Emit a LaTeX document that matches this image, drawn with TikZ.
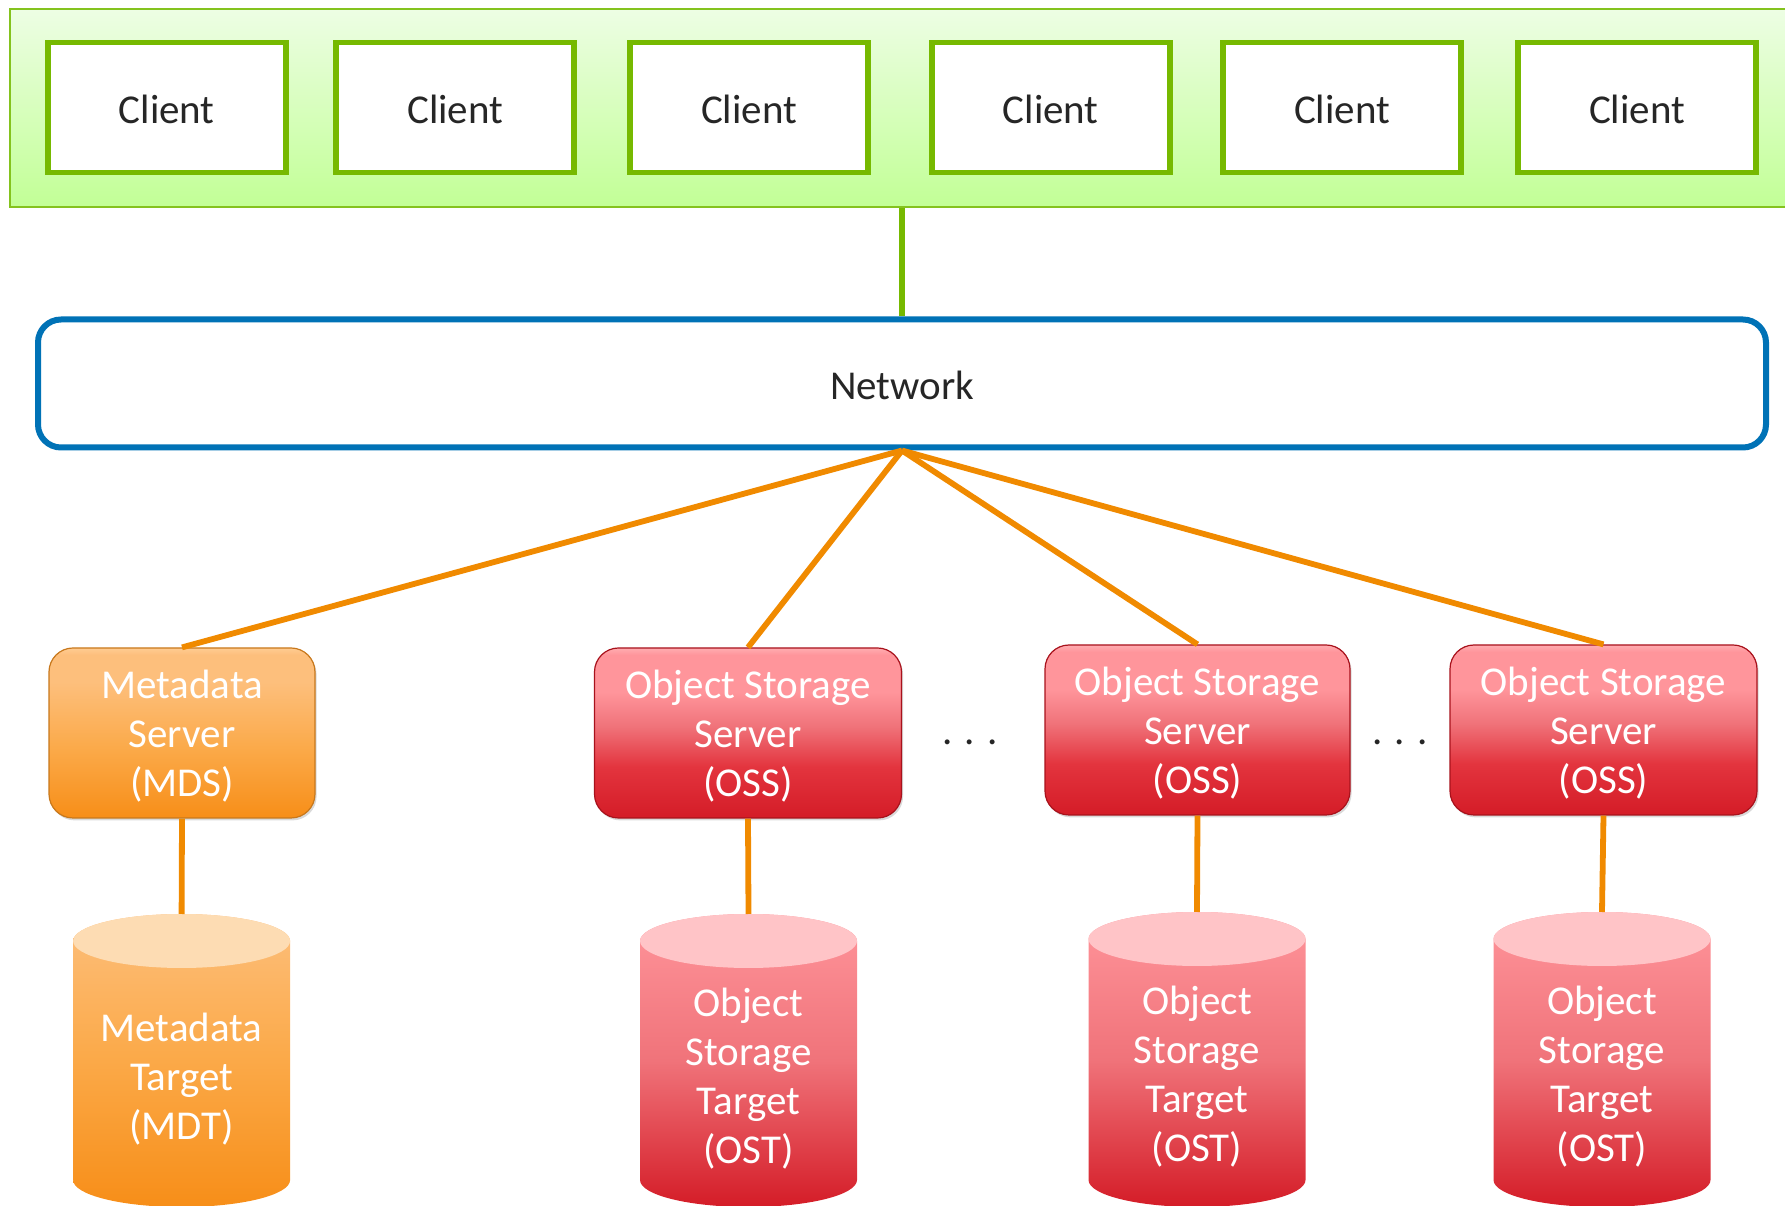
\documentclass[tikz,border=0pt]{standalone}
\usepackage{fontspec}
\setmainfont{Carlito}
\usetikzlibrary{shadows}
\definecolor{bandtop}{HTML}{EDFEE4}
\definecolor{bandbot}{HTML}{C2FF96}
\definecolor{bandline}{HTML}{84C31E}
\definecolor{cgreen}{HTML}{76B900}
\definecolor{netblue}{HTML}{0072B6}
\definecolor{lorange}{HTML}{F08A00}
\definecolor{txtdark}{HTML}{262626}
\definecolor{ossTop}{HTML}{FFADB1}
\definecolor{ossT}{HTML}{FF959B}
\definecolor{ossM1}{HTML}{F0737A}
\definecolor{ossM2}{HTML}{E3343E}
\definecolor{ossB}{HTML}{D41C27}
\definecolor{ossline}{HTML}{A8121C}
\definecolor{mdsTop}{HTML}{FFCC92}
\definecolor{mdsT}{HTML}{FDBF7C}
\definecolor{mdsM}{HTML}{FBA948}
\definecolor{mdsB}{HTML}{F78E18}
\definecolor{mdsline}{HTML}{C8781C}
\definecolor{ostcap}{HTML}{FFC4C7}
\definecolor{mdtcap}{HTML}{FDDCB3}
\pgfdeclareverticalshading{ossshade}{100bp}{color(0bp)=(ossB); color(25bp)=(ossB); color(40bp)=(ossM2); color(52bp)=(ossM1); color(62bp)=(ossT); color(73bp)=(ossT); color(75bp)=(ossTop); color(100bp)=(ossTop)}
\pgfdeclareverticalshading{mdsshade}{100bp}{color(0bp)=(mdsB); color(25bp)=(mdsB); color(45bp)=(mdsM); color(65bp)=(mdsT); color(73bp)=(mdsT); color(75bp)=(mdsTop); color(100bp)=(mdsTop)}
\newcommand\mycyl[5]{%
  \shade[#4] (#2-108.5,#3-27) -- (#2-108.5,26)
    arc[start angle=180,end angle=360,x radius=54.25pt,y radius=13.5pt]
    -- (#2+108.5,#3-27)
    arc[start angle=0,end angle=180,x radius=54.25pt,y radius=13.5pt] -- cycle;
  \fill[#5] (#2,#3-27) ellipse [x radius=54.25pt, y radius=13.5pt];
  \coordinate (#1-top) at (#2,#3);
}
\newcommand\lowered[1]{\raisebox{-1.2pt}[\height][\depth]{#1}}
\begin{document}
\begin{tikzpicture}[x=0.5pt,y=0.5pt,
  font=\fontsize{20.5pt}{24.5pt}\selectfont,
  band/.style={draw=bandline, line width=1pt, top color=bandtop, bottom color=bandbot,
    minimum width=895pt, minimum height=99pt, inner sep=0pt},
  client/.style={draw=cgreen, line width=2.8pt, fill=white, text=txtdark,
    minimum width=119pt, minimum height=65pt, inner sep=0pt},
  net/.style={draw=netblue, line width=3pt, fill=white, text=txtdark, rounded corners=11.5pt,
    minimum width=864pt, minimum height=64pt, inner sep=0pt},
  greenline/.style={cgreen, line width=2.8pt},
  orangeline/.style={lorange, line width=2.9pt},
  server/.style={draw=ossline, line width=0.6pt, shading=ossshade, rounded corners=12pt,
    minimum height=85pt, inner sep=0pt,
    drop shadow={shadow xshift=0.8pt, shadow yshift=-1.2pt, opacity=0.3}},
  mdserver/.style={server, draw=mdsline, shading=mdsshade},
  srvtext/.style={text=white, align=center, inner sep=0pt, yshift=-1.6pt},
  cyltext/.style={text=white, align=center, inner sep=0pt},
  dots/.style={text=txtdark, anchor=base, inner sep=0pt}]
\useasboundingbox (0,0) rectangle (1785,1206);
\clip (0,0) rectangle (1785,1206);

% client band
\node[band] (band) at (905,1098) {};
\node[client] (c1) at (166.75,1098.5) {\lowered{Client}};
\node[client] (c2) at (455.25,1098.5) {\lowered{Client}};
\node[client] (c3) at (749,1098.5) {\lowered{Client}};
\node[client] (c4) at (1050.75,1098.5) {\lowered{Client}};
\node[client] (c5) at (1342,1098.5) {\lowered{Client}};
\node[client] (c6) at (1637,1098.5) {\lowered{Client}};

% network
\node[net] (net) at (902,822.5) {\lowered{Network}};
\draw[greenline] (net.north) -- (net.north |- band.south);

% cylinders
\mycyl{mdt}{181.6}{292}{top color=mdsT, bottom color=mdsB, middle color=mdsM}{mdtcap}
\mycyl{ost1}{748.5}{292}{top color=ossT, bottom color=ossB, middle color=ossM1}{ostcap}
\mycyl{ost2}{1197}{294}{top color=ossT, bottom color=ossB, middle color=ossM1}{ostcap}
\mycyl{ost3}{1602}{294}{top color=ossT, bottom color=ossB, middle color=ossM1}{ostcap}
\node[cyltext] (mdt) at (181.6,127) {Metadata\\Target\\(MDT)};
\node[cyltext] (ost1) at (748.5,127) {Object\\Storage\\Target\\(OST)};
\node[cyltext] (ost2) at (1197,129) {Object\\Storage\\Target\\(OST)};
\node[cyltext] (ost3) at (1602,129) {Object\\Storage\\Target\\(OST)};

% servers
\node[mdserver, minimum width=133pt, label={[srvtext]center:Metadata\\Server\\(MDS)}] (mds) at (182,473) {};
\node[server, minimum width=153.5pt, label={[srvtext]center:Object Storage\\Server\\(OSS)}] (oss1) at (748,473) {};
\node[server, minimum width=152.5pt, label={[srvtext]center:Object Storage\\Server\\(OSS)}] (oss2) at (1197.5,476) {};
\node[server, minimum width=153.5pt, label={[srvtext]center:Object Storage\\Server\\(OSS)}] (oss3) at (1603.5,476) {};

% connectors
\draw[orangeline] (net.south) -- (mds.north);
\draw[orangeline] (net.south) -- (oss1.north);
\draw[orangeline] (net.south) -- (oss2.north);
\draw[orangeline] (net.south) -- (oss3.north);
\draw[orangeline] (mds.south) -- (mdt-top);
\draw[orangeline] (oss1.south) -- (ost1-top);
\draw[orangeline] (oss2.south) -- (ost2-top);
\draw[orangeline] (oss3.south) -- (ost3-top);

% ellipsis
\node[dots] (dots1) at (970,461) {. . .};
\node[dots] (dots2) at (1400,461) {. . .};
\end{tikzpicture}
\end{document}
